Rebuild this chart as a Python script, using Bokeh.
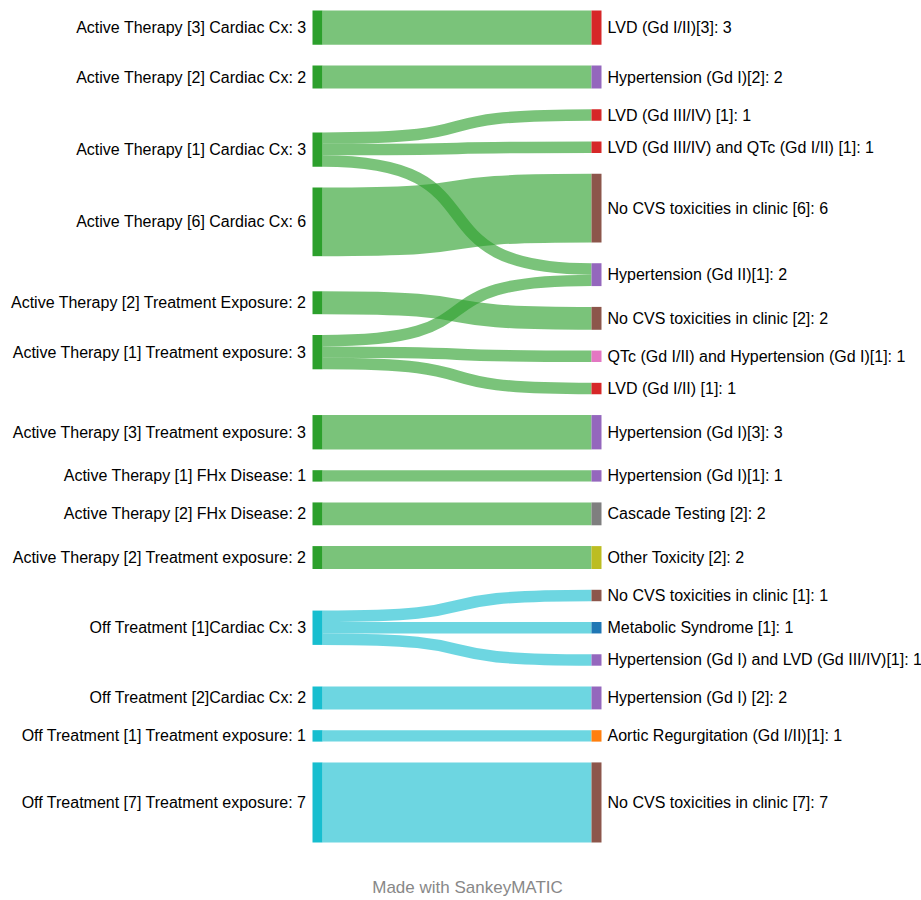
import numpy as np
from bokeh.plotting import figure
from bokeh.models import Range1d, ColumnDataSource
from bokeh.core.properties import value
from bokeh.embed import file_html
from bokeh.resources import INLINE

# ---------------- data ----------------
left_nodes = [
    "Active Therapy [3] Cardiac Cx",
    "Active Therapy [2] Cardiac Cx",
    "Active Therapy [1] Cardiac Cx",
    "Active Therapy [6] Cardiac Cx",
    "Active Therapy [2] Treatment Exposure",
    "Active Therapy [1] Treatment exposure",
    "Active Therapy [3] Treatment exposure",
    "Active Therapy [1] FHx Disease",
    "Active Therapy [2] FHx Disease",
    "Active Therapy [2] Treatment exposure",
    "Off Treatment [1]Cardiac Cx",
    "Off Treatment [2]Cardiac Cx",
    "Off Treatment [1] Treatment exposure",
    "Off Treatment [7] Treatment exposure",
]
left_groups = ["Active"] * 10 + ["Off"] * 4

right_nodes = [
    "LVD (Gd I/II)[3]",
    "Hypertension (Gd I)[2]",
    "LVD (Gd III/IV) [1]",
    "LVD (Gd III/IV) and QTc (Gd I/II) [1]",
    "No CVS toxicities in clinic [6]",
    "Hypertension (Gd II)[1]",
    "No CVS toxicities in clinic [2]",
    "QTc (Gd I/II) and Hypertension (Gd I)[1]",
    "LVD (Gd I/II) [1]",
    "Hypertension (Gd I)[3]",
    "Hypertension (Gd I)[1]",
    "Cascade Testing [2]",
    "Other Toxicity [2]",
    "No CVS toxicities in clinic [1]",
    "Metabolic Syndrome [1]",
    "Hypertension (Gd I) and LVD (Gd III/IV)[1]",
    "Hypertension (Gd I) [2]",
    "Aortic Regurgitation (Gd I/II)[1]",
    "No CVS toxicities in clinic [7]",
]
right_groups = ["LVD", "HTN", "LVD", "LVD", "NoCVS", "HTN", "NoCVS", "QTc", "LVD",
                "HTN", "HTN", "Cascade", "Other", "NoCVS", "Metabolic", "HTN", "HTN",
                "Aortic", "NoCVS"]

link_source = [
    "Active Therapy [3] Cardiac Cx",
    "Active Therapy [2] Cardiac Cx",
    "Active Therapy [1] Cardiac Cx",
    "Active Therapy [1] Cardiac Cx",
    "Active Therapy [1] Cardiac Cx",
    "Active Therapy [6] Cardiac Cx",
    "Active Therapy [2] Treatment Exposure",
    "Active Therapy [1] Treatment exposure",
    "Active Therapy [1] Treatment exposure",
    "Active Therapy [1] Treatment exposure",
    "Active Therapy [3] Treatment exposure",
    "Active Therapy [1] FHx Disease",
    "Active Therapy [2] FHx Disease",
    "Active Therapy [2] Treatment exposure",
    "Off Treatment [1]Cardiac Cx",
    "Off Treatment [1]Cardiac Cx",
    "Off Treatment [1]Cardiac Cx",
    "Off Treatment [2]Cardiac Cx",
    "Off Treatment [1] Treatment exposure",
    "Off Treatment [7] Treatment exposure",
]
link_target = [
    "LVD (Gd I/II)[3]",
    "Hypertension (Gd I)[2]",
    "LVD (Gd III/IV) [1]",
    "LVD (Gd III/IV) and QTc (Gd I/II) [1]",
    "Hypertension (Gd II)[1]",
    "No CVS toxicities in clinic [6]",
    "No CVS toxicities in clinic [2]",
    "Hypertension (Gd II)[1]",
    "QTc (Gd I/II) and Hypertension (Gd I)[1]",
    "LVD (Gd I/II) [1]",
    "Hypertension (Gd I)[3]",
    "Hypertension (Gd I)[1]",
    "Cascade Testing [2]",
    "Other Toxicity [2]",
    "No CVS toxicities in clinic [1]",
    "Metabolic Syndrome [1]",
    "Hypertension (Gd I) and LVD (Gd III/IV)[1]",
    "Hypertension (Gd I) [2]",
    "Aortic Regurgitation (Gd I/II)[1]",
    "No CVS toxicities in clinic [7]",
]
link_value = [3, 2, 1, 1, 1, 6, 2, 1, 1, 1, 3, 1, 2, 2, 1, 1, 1, 2, 1, 7]

footer_text = "Made with SankeyMATIC"

# ---------------- styles ----------------
group_color = {
    "Active": "#2ca02c", "Off": "#17becf",
    "LVD": "#d62728", "HTN": "#9467bd", "NoCVS": "#8c564b", "QTc": "#e377c2",
    "Cascade": "#7f7f7f", "Other": "#bcbd22", "Metabolic": "#1f77b4", "Aortic": "#ff7f0e",
}
LINK_ALPHA = 0.63
FONT = "Liberation Sans"
CURV = 0.7

# ---------------- layout (page pixel coordinates) ----------------
W, H = 921, 900
COL_X = [312.0, 591.0]
NODE_W = 10.0
TOP, BOT = 10.0, 842.0
PAD = 20.8
LABEL_GAP = 6.0

li = {n: i for i, n in enumerate(left_nodes)}
ri = {n: i for i, n in enumerate(right_nodes)}
src = [li[s] for s in link_source]
tgt = [ri[t] for t in link_target]
val = np.array(link_value, dtype=float)
nL, nR, nK = len(left_nodes), len(right_nodes), len(val)

lval = np.zeros(nL)
rval = np.zeros(nR)
for s, t, v in zip(src, tgt, val):
    lval[s] += v
    rval[t] += v

ky = min((BOT - TOP - (len(c) - 1) * PAD) / c.sum() for c in (lval, rval))
lh, rh, w = lval * ky, rval * ky, val * ky


def stack(h):
    return TOP + np.concatenate([[0.0], np.cumsum(h + PAD)[:-1]])


# offsets of links within their nodes
soff = np.zeros(nK)
acc = np.zeros(nL)
for k in sorted(range(nK), key=lambda k: (src[k], tgt[k])):
    soff[k] = acc[src[k]]
    acc[src[k]] += w[k]
toff = np.zeros(nK)
acc = np.zeros(nR)
for k in sorted(range(nK), key=lambda k: (tgt[k], src[k])):
    toff[k] = acc[tgt[k]]
    acc[tgt[k]] += w[k]

# right column is the fullest: stack it; place the left nodes by weighted
# least squares (straight links) with non-overlap constraints (PAVA)
ry0 = stack(rh)
ideal = np.zeros(nL)
for i in range(nL):
    ks = [k for k in range(nK) if src[k] == i]
    ideal[i] = sum(val[k] * (ry0[tgt[k]] + toff[k] - soff[k]) for k in ks) / sum(val[k] for k in ks)
cum = np.concatenate([[0.0], np.cumsum(lh + PAD)[:-1]])
z = ideal - cum
blocks = []
for i in range(nL):
    blocks.append([lval[i] * z[i], lval[i], 1])
    while len(blocks) > 1 and blocks[-2][0] / blocks[-2][1] > blocks[-1][0] / blocks[-1][1]:
        b = blocks.pop()
        blocks[-1][0] += b[0]
        blocks[-1][1] += b[1]
        blocks[-1][2] += b[2]
zf = []
for b in blocks:
    zf += [b[0] / b[1]] * b[2]
zf = np.clip(np.array(zf), TOP, BOT - (cum[-1] + lh[-1]))
ly0 = zf + cum

# ---------------- figure ----------------
p = figure(width=W, height=H, x_range=Range1d(0, W), y_range=Range1d(H, 0),
           output_backend="svg", toolbar_location=None,
           x_axis_location=None, y_axis_location=None, min_border=0,
           outline_line_color=None, background_fill_color="white")
p.grid.grid_line_color = None

xs = COL_X[0] + NODE_W
xe = COL_X[1]
D = xe - xs
lsrc = ColumnDataSource(dict(
    x0=[xs] * nK, x1=[xe] * nK,
    cx0=[xs + CURV * D] * nK, cx1=[xs + (1 - CURV) * D] * nK,
    y0=list(ly0[src] + soff + w / 2), y1=list(ry0[tgt] + toff + w / 2),
    w=list(w), color=[group_color[left_groups[s]] for s in src],
))
p.bezier(x0="x0", y0="y0", x1="x1", y1="y1", cx0="cx0", cy0="y0", cx1="cx1", cy1="y1",
         line_width="w", line_color="color", line_alpha=LINK_ALPHA, source=lsrc)

p.quad(left=[COL_X[0]] * nL, right=[COL_X[0] + NODE_W] * nL, top=list(ly0), bottom=list(ly0 + lh),
       fill_color=[group_color[g] for g in left_groups], line_color=None)
p.quad(left=[COL_X[1]] * nR, right=[COL_X[1] + NODE_W] * nR, top=list(ry0), bottom=list(ry0 + rh),
       fill_color=[group_color[g] for g in right_groups], line_color=None)


def fmt(v):
    return str(int(v)) if float(v).is_integer() else str(v)


p.text(x=[COL_X[0] - LABEL_GAP] * nL, y=list(ly0 + lh / 2),
       text=[f"{n}: {fmt(v)}" for n, v in zip(left_nodes, lval)],
       text_align="right", text_baseline="middle", text_font=value(FONT),
       text_font_size="16px", text_color="#000000")
p.text(x=[COL_X[1] + NODE_W + LABEL_GAP] * nR, y=list(ry0 + rh / 2),
       text=[f"{n}: {fmt(v)}" for n, v in zip(right_nodes, rval)],
       text_align="left", text_baseline="middle", text_font=value(FONT),
       text_font_size="16px", text_color="#000000")

p.text(x=[467], y=[887], text=[footer_text], text_align="center",
       text_baseline="alphabetic", text_font=value(FONT), text_font_size="17px",
       text_color="#888888")

open("out.html", "w").write(file_html(p, INLINE))
